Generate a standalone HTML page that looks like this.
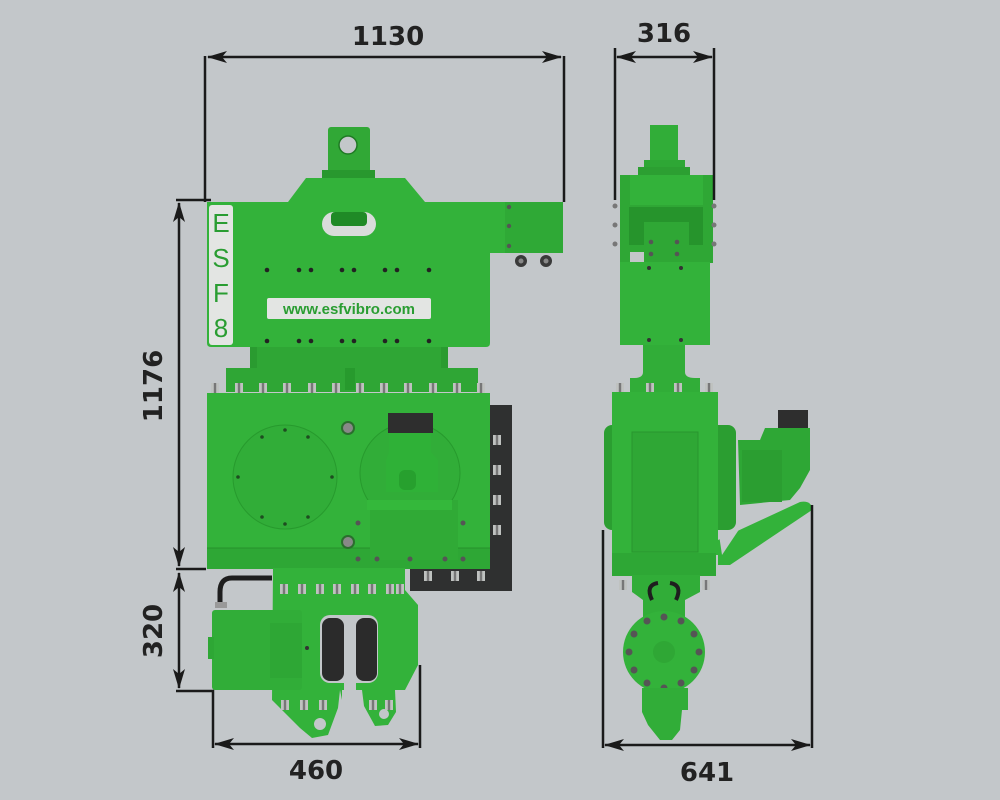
<!DOCTYPE html>
<html><head><meta charset="utf-8"><style>
html,body{margin:0;padding:0;background:#c3c7ca;}
svg{display:block}
text{font-family:"DejaVu Sans","Liberation Sans",sans-serif;font-weight:bold;fill:#222}
</style></head><body>
<svg width="1000" height="800" viewBox="0 0 1000 800" xmlns="http://www.w3.org/2000/svg">
<defs>
<marker id="ah" viewBox="0 0 20 12" refX="19" refY="6" markerWidth="20" markerHeight="12" markerUnits="userSpaceOnUse" orient="auto-start-reverse">
<path d="M0,0 L20,6 L0,12 L5,6 Z" fill="#1a1a1a"/></marker>
<g id="bolt"><rect x="-4" y="-5" width="8" height="10" fill="#bfc2c0"/><rect x="-1.2" y="-5" width="2.4" height="10" fill="#777"/></g>
</defs>
<rect width="1000" height="800" fill="#c3c7ca"/>

<!-- ===== LEFT VIEW ===== -->
<!-- dark back plate -->
<rect x="488" y="405" width="24" height="186" fill="#2f3030"/>
<rect x="410" y="566" width="102" height="25" fill="#2f3030"/>
<g>
<use href="#bolt" x="497" y="440"/><use href="#bolt" x="497" y="470"/><use href="#bolt" x="497" y="500"/><use href="#bolt" x="497" y="530"/>
<use href="#bolt" x="428" y="576"/><use href="#bolt" x="455" y="576"/><use href="#bolt" x="481" y="576"/>
</g>
<!-- top lug -->
<rect x="328" y="127" width="42" height="48" rx="3" fill="#31a836"/>
<circle cx="348" cy="145" r="9" fill="#c3c7ca" stroke="#1f7a24" stroke-width="1.5"/>
<rect x="322" y="170" width="53" height="8" fill="#28982e"/>
<!-- top plate -->
<path d="M207,202 L288,202 L306,178 L405,178 L425,202 L563,202 L563,253 L490,253 L490,343 Q490,347 486,347 L211,347 Q207,347 207,343 Z" fill="#33b23a"/>
<rect x="505" y="202" width="58" height="51" fill="#2fa936"/>
<circle cx="509" cy="207" r="2.2" fill="#555"/><circle cx="509" cy="226" r="2.2" fill="#555"/><circle cx="509" cy="246" r="2.2" fill="#555"/>
<circle cx="521" cy="261" r="6" fill="#3a3a3a"/><circle cx="546" cy="261" r="6" fill="#3a3a3a"/>
<circle cx="521" cy="261" r="2.5" fill="#888"/><circle cx="546" cy="261" r="2.5" fill="#888"/>
<!-- slot -->
<rect x="322" y="212" width="54" height="24" rx="12" fill="#d9dcdb"/>
<rect x="331" y="212" width="36" height="14" rx="4" fill="#1f8a26"/>
<!-- ESF8 label -->
<rect x="209" y="205" width="24" height="140" rx="3" fill="#e3e5e3"/>
<text x="221" y="232" text-anchor="middle" font-size="26" style="fill:#2a9d32;font-weight:normal;font-family:'Liberation Sans',sans-serif">E</text>
<text x="221" y="267" text-anchor="middle" font-size="26" style="fill:#2a9d32;font-weight:normal;font-family:'Liberation Sans',sans-serif">S</text>
<text x="221" y="302" text-anchor="middle" font-size="26" style="fill:#2a9d32;font-weight:normal;font-family:'Liberation Sans',sans-serif">F</text>
<text x="221" y="337" text-anchor="middle" font-size="26" style="fill:#2a9d32;font-weight:normal;font-family:'Liberation Sans',sans-serif">8</text>
<!-- www label -->
<rect x="267" y="298" width="164" height="21" rx="2" fill="#e3e5e3"/>
<text x="349" y="314" text-anchor="middle" font-size="15" style="fill:#2a9d32;font-family:'Liberation Sans',sans-serif">www.esfvibro.com</text>
<!-- plate holes -->
<g fill="#222">
<circle cx="267" cy="270" r="2.3"/><circle cx="299" cy="270" r="2.3"/><circle cx="311" cy="270" r="2.3"/><circle cx="342" cy="270" r="2.3"/><circle cx="354" cy="270" r="2.3"/><circle cx="385" cy="270" r="2.3"/><circle cx="397" cy="270" r="2.3"/><circle cx="429" cy="270" r="2.3"/>
<circle cx="267" cy="341" r="2.3"/><circle cx="299" cy="341" r="2.3"/><circle cx="311" cy="341" r="2.3"/><circle cx="342" cy="341" r="2.3"/><circle cx="354" cy="341" r="2.3"/><circle cx="385" cy="341" r="2.3"/><circle cx="397" cy="341" r="2.3"/><circle cx="429" cy="341" r="2.3"/>
</g>
<!-- under plate box -->
<rect x="250" y="347" width="198" height="40" fill="#2a9b30"/>
<rect x="257" y="347" width="184" height="38" fill="#2fa635"/>
<rect x="226" y="368" width="252" height="24" fill="#2fa635"/>
<rect x="345" y="368" width="10" height="22" fill="#279a2d"/>
<g>
<use href="#bolt" x="215" y="388"/><use href="#bolt" x="239" y="388"/><use href="#bolt" x="263" y="388"/><use href="#bolt" x="287" y="388"/><use href="#bolt" x="312" y="388"/><use href="#bolt" x="336" y="388"/><use href="#bolt" x="360" y="388"/><use href="#bolt" x="384" y="388"/><use href="#bolt" x="408" y="388"/><use href="#bolt" x="433" y="388"/><use href="#bolt" x="457" y="388"/><use href="#bolt" x="481" y="388"/>
</g>
<!-- main body -->
<rect x="207" y="393" width="283" height="176" fill="#33b23a"/>
<rect x="207" y="548" width="283" height="21" fill="#2ea735"/>
<line x1="207" y1="548" x2="490" y2="548" stroke="#27922c" stroke-width="1"/>
<!-- left circle cover -->
<circle cx="285" cy="477" r="52" fill="#31ad38" stroke="#279a2d" stroke-width="1"/>
<g fill="#1e4d20">
<circle cx="285" cy="430" r="1.8"/><circle cx="285" cy="524" r="1.8"/><circle cx="238" cy="477" r="1.8"/><circle cx="332" cy="477" r="1.8"/>
<circle cx="262" cy="437" r="1.8"/><circle cx="308" cy="437" r="1.8"/><circle cx="262" cy="517" r="1.8"/><circle cx="308" cy="517" r="1.8"/>
</g>
<circle cx="348" cy="428" r="6" fill="#888" stroke="#2b6e2e" stroke-width="2"/>
<circle cx="348" cy="542" r="6" fill="#888" stroke="#2b6e2e" stroke-width="2"/>
<!-- right circle with motor -->
<circle cx="410" cy="473" r="50" fill="#31ad38" stroke="#279a2d" stroke-width="1"/>
<rect x="388" y="413" width="45" height="20" fill="#2e2e2e"/>
<path d="M389,433 L431,433 L431,452 L438,460 L438,492 L386,492 L386,460 L389,452 Z" fill="#2fb137"/>
<rect x="399" y="470" width="17" height="20" rx="6" fill="#27a02e"/>
<rect x="370" y="500" width="88" height="60" fill="#30aa36"/>
<rect x="367" y="500" width="85" height="10" fill="#34b83b"/>
<g fill="#555"><circle cx="358" cy="523" r="2.5"/><circle cx="463" cy="523" r="2.5"/><circle cx="358" cy="559" r="2.5"/><circle cx="377" cy="559" r="2.5"/><circle cx="410" cy="559" r="2.5"/><circle cx="445" cy="559" r="2.5"/><circle cx="463" cy="559" r="2.5"/></g>

<!-- lower clamp -->
<path d="M273,568 L405,568 L405,590 L418,605 L418,665 L405,690 L362,690 L362,700 L342,700 L340,690 L338,708 L328,735 L312,738 L300,728 L272,700 Z" fill="#33b23a"/>
<path d="M362,690 L395,690 L396,712 L388,725 L375,726 L364,706 Z" fill="#33b23a"/>
<circle cx="320" cy="724" r="6" fill="#c3c7ca"/>
<circle cx="384" cy="714" r="5" fill="#c3c7ca"/>
<rect x="342" y="690" width="20" height="50" fill="#c3c7ca"/>
<g>
<use href="#bolt" x="284" y="589"/><use href="#bolt" x="302" y="589"/><use href="#bolt" x="320" y="589"/><use href="#bolt" x="337" y="589"/><use href="#bolt" x="355" y="589"/><use href="#bolt" x="372" y="589"/><use href="#bolt" x="390" y="589"/><use href="#bolt" x="400" y="589"/>
<use href="#bolt" x="285" y="705"/><use href="#bolt" x="304" y="705"/><use href="#bolt" x="323" y="705"/><use href="#bolt" x="373" y="705"/><use href="#bolt" x="389" y="705"/>
</g>
<!-- jaws -->
<rect x="320" y="615" width="58" height="68" rx="10" fill="#c3c7ca"/>
<rect x="322" y="618" width="22" height="63" rx="8" fill="#2b2b2b"/>
<rect x="356" y="618" width="21" height="63" rx="8" fill="#2b2b2b"/>
<rect x="344" y="615" width="12" height="75" fill="#c3c7ca"/>
<!-- cylinder -->
<rect x="212" y="610" width="90" height="80" rx="3" fill="#31ad38"/>
<rect x="208" y="637" width="6" height="22" fill="#2ea735"/>
<rect x="270" y="623" width="32" height="55" fill="#2ea735"/>
<circle cx="307" cy="648" r="2" fill="#333"/>
<path d="M272,578 L232,578 Q220,578 220,592 L220,606" fill="none" stroke="#1e1e1e" stroke-width="5"/>
<rect x="215" y="602" width="12" height="6" fill="#999"/>

<!-- ===== RIGHT VIEW ===== -->
<rect x="650" y="125" width="28" height="37" fill="#31ad38"/>
<rect x="644" y="160" width="41" height="7" fill="#2ea735"/>
<rect x="638" y="167" width="52" height="12" fill="#2c9f32"/>
<rect x="620" y="175" width="93" height="88" fill="#2fa735"/>
<rect x="630" y="175" width="73" height="30" fill="#33b23a"/>
<rect x="629" y="207" width="74" height="38" fill="#26942c"/>
<rect x="644" y="222" width="45" height="30" fill="#2fa735"/>
<g fill="#555"><circle cx="651" cy="242" r="2.3"/><circle cx="677" cy="242" r="2.3"/><circle cx="651" cy="254" r="2.3"/><circle cx="677" cy="254" r="2.3"/></g>
<g fill="#777"><circle cx="615" cy="206" r="2.5"/><circle cx="615" cy="225" r="2.5"/><circle cx="615" cy="244" r="2.5"/><circle cx="714" cy="206" r="2.5"/><circle cx="714" cy="225" r="2.5"/><circle cx="714" cy="244" r="2.5"/></g>
<rect x="630" y="252" width="14" height="11" fill="#c3c7ca"/>
<rect x="620" y="262" width="90" height="83" fill="#33b23a"/>
<g fill="#333"><circle cx="649" cy="268" r="2"/><circle cx="681" cy="268" r="2"/><circle cx="649" cy="340" r="2"/><circle cx="681" cy="340" r="2"/></g>
<path d="M643,345 L685,345 L685,372 Q685,378 695,378 L700,378 L700,393 L630,393 L630,378 L634,378 Q643,378 643,372 Z" fill="#31ad38"/>
<g><use href="#bolt" x="620" y="388"/><use href="#bolt" x="650" y="388"/><use href="#bolt" x="678" y="388"/><use href="#bolt" x="709" y="388"/></g>
<!-- motor right -->
<rect x="778" y="410" width="30" height="22" fill="#2e2e2e"/>
<path d="M738,440 L760,440 L765,428 L810,428 L810,470 L800,488 L790,500 L740,505 Z" fill="#2ea735"/>
<rect x="742" y="450" width="40" height="52" fill="#2b9e31"/>
<!-- arm -->
<path d="M718,540 L800,502 Q812,500 812,510 L730,565 L718,565 Z" fill="#33b23a"/>
<path d="M718,528 L740,528 L722,555 Z" fill="#c3c7ca"/>
<!-- gearbox -->
<rect x="604" y="425" width="132" height="105" rx="8" fill="#2b9e31"/>
<rect x="612" y="392" width="106" height="163" fill="#33b23a"/>
<rect x="632" y="432" width="66" height="120" fill="#2fa735" stroke="#28962e" stroke-width="1"/>
<rect x="612" y="553" width="104" height="23" fill="#2ea735"/>
<path d="M632,575 L700,575 L700,592 L685,600 L685,640 L643,640 L643,600 L632,592 Z" fill="#31ad38"/>
<g><use href="#bolt" x="623" y="585"/><use href="#bolt" x="706" y="585"/></g>
<path d="M652,600 Q645,585 658,583" fill="none" stroke="#1e1e1e" stroke-width="4"/>
<path d="M676,600 Q683,585 670,583" fill="none" stroke="#1e1e1e" stroke-width="4"/>
<!-- disc -->
<circle cx="664" cy="652" r="41" fill="#33b23a"/>
<circle cx="664" cy="652" r="11" fill="#2fa735"/>
<g fill="#555">
<circle cx="664" cy="617" r="3.5"/><circle cx="664" cy="688" r="3.5"/><circle cx="629" cy="652" r="3.5"/><circle cx="699" cy="652" r="3.5"/>
<circle cx="647" cy="621" r="3.5"/><circle cx="681" cy="621" r="3.5"/><circle cx="647" cy="683" r="3.5"/><circle cx="681" cy="683" r="3.5"/>
<circle cx="634" cy="634" r="3.5"/><circle cx="694" cy="634" r="3.5"/><circle cx="634" cy="670" r="3.5"/><circle cx="694" cy="670" r="3.5"/>
</g>
<path d="M642,688 L688,688 L688,710 L682,710 L680,730 L672,740 L660,740 L648,725 L642,712 Z" fill="#31ad38"/>

<!-- ===== DIMENSIONS ===== -->
<g stroke="#1a1a1a" stroke-width="2.5" fill="none">
<line x1="205" y1="56" x2="205" y2="202"/>
<line x1="564" y1="56" x2="564" y2="202"/>
<line x1="208" y1="57" x2="561" y2="57" marker-start="url(#ah)" marker-end="url(#ah)"/>
<line x1="615" y1="48" x2="615" y2="200"/>
<line x1="714" y1="48" x2="714" y2="200"/>
<line x1="617" y1="57" x2="712" y2="57" marker-start="url(#ah)" marker-end="url(#ah)"/>
<line x1="176" y1="200" x2="211" y2="200"/>
<line x1="179" y1="203" x2="179" y2="566" marker-start="url(#ah)" marker-end="url(#ah)"/>
<line x1="176" y1="569" x2="206" y2="569"/>
<line x1="179" y1="573" x2="179" y2="688" marker-start="url(#ah)" marker-end="url(#ah)"/>
<polyline points="176,691 213,691 213,748"/>
<line x1="420" y1="665" x2="420" y2="748"/>
<line x1="215" y1="744" x2="418" y2="744" marker-start="url(#ah)" marker-end="url(#ah)"/>
<line x1="603" y1="530" x2="603" y2="748"/>
<line x1="812" y1="505" x2="812" y2="748"/>
<line x1="605" y1="745" x2="810" y2="745" marker-start="url(#ah)" marker-end="url(#ah)"/>
</g>
<text x="388" y="45" text-anchor="middle" font-size="26">1130</text>
<text x="664" y="42" text-anchor="middle" font-size="26">316</text>
<text x="316" y="779" text-anchor="middle" font-size="26">460</text>
<text x="707" y="781" text-anchor="middle" font-size="26">641</text>
<text transform="translate(162,386) rotate(-90)" text-anchor="middle" font-size="26">1176</text>
<text transform="translate(162,631) rotate(-90)" text-anchor="middle" font-size="26">320</text>
</svg>
</body></html>
